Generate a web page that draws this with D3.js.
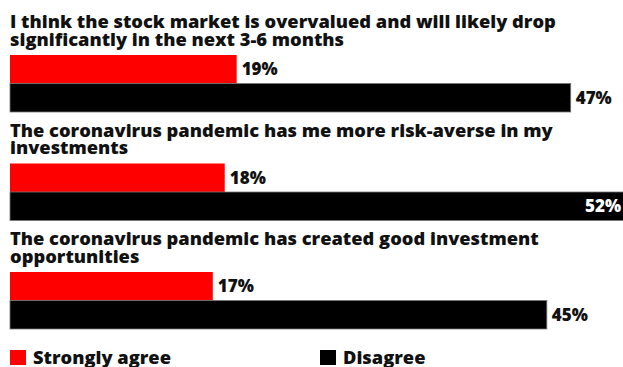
<!DOCTYPE html>
<html>
<head>
<meta charset="utf-8">
<script src="https://cdn.jsdelivr.net/npm/d3@7"></script>
<style>
  html, body { margin: 0; padding: 0; background: #fff; }
  svg { display: block; }
  text { font-family: "Open Sans", "DejaVu Sans", sans-serif; font-weight: 800; fill: #111; }
</style>
</head>
<body>
<div id="chart"></div>
<script>
// ---- data ----
const questions = [
  ["I think the stock market is overvalued and will likely drop", "significantly in the next 3-6 months"],
  ["The coronavirus pandemic has me more risk-averse in my", "investments"],
  ["The coronavirus pandemic has created good investment", "opportunities"]
];
const seriesNames = ["Strongly agree", "Disagree"];
const stronglyAgree = [19, 18, 17];
const disagree = [47, 52, 45];
const seriesColors = ["#ff0000", "#000000"];

// ---- layout ----
const W = 623, H = 367;
const svg = d3.select("#chart").append("svg").attr("width", W).attr("height", H);

const x = d3.scaleLinear().domain([0, 47]).range([10, 570.7]);
const groupY = d3.scaleLinear().domain([0, 2]).range([55, 272]);
const barH = 28.5;
const series = [stronglyAgree, disagree];

questions.forEach((lines, i) => {
  const g = svg.append("g").attr("transform", `translate(0,${groupY(i)})`);
  const t = g.append("text").attr("x", 10).attr("y", -27).attr("font-size", 18.3);
  lines.forEach((ln, j) => {
    t.append("tspan").attr("x", 10).attr("dy", j === 0 ? 0 : 17.5).text(ln);
  });
  series.forEach((vals, s) => {
    const v = vals[i];
    const y0 = s * barH;
    g.append("rect").attr("x", x(0)).attr("y", y0)
      .attr("width", x(v) - x(0)).attr("height", barH)
      .attr("fill", seriesColors[s])
      .attr("stroke", s === 1 ? "#777" : "none").attr("stroke-width", s === 1 ? 0.8 : 0);
    const overflow = x(v) + 45 > W;
    g.append("text")
      .attr("x", overflow ? W - 2 : x(v) + 5)
      .attr("y", y0 + barH / 2 + 6)
      .attr("text-anchor", overflow ? "end" : "start")
      .attr("font-size", 17)
      .style("fill", overflow ? "#fff" : "#111")
      .text(v + "%");
  });
});

// ---- legend ----
const legendX = [10, 320];
seriesNames.forEach((name, s) => {
  const lg = svg.append("g").attr("transform", `translate(${legendX[s]},350)`);
  lg.append("rect").attr("width", 16).attr("height", 15).attr("fill", seriesColors[s]);
  lg.append("text").attr("x", 23).attr("y", 13.5).attr("font-size", 18.3).text(name);
});
</script>
</body>
</html>
